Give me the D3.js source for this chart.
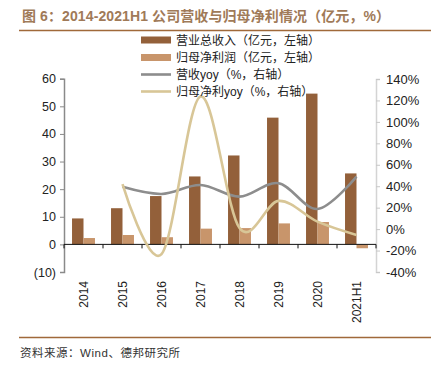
<!DOCTYPE html>
<html><head><meta charset="utf-8">
<script src="https://cdn.jsdelivr.net/npm/d3@7"></script>
<style>
html,body{margin:0;padding:0;background:#fff;}
svg{display:block;}
</style></head>
<body><svg id="c" width="439" height="371"></svg>
<script>
const categories = ["2014","2015","2016","2017","2018","2019","2020","2021H1"];
const revenue = [9.4, 13.1, 17.5, 24.6, 32.2, 45.9, 54.6, 25.7];
const netProfit = [2.3, 3.4, 2.6, 5.7, 5.9, 7.6, 8.1, -1.4];
const revenueYoy = [null, 39.4, 32.8, 41.2, 30.3, 42.8, 18.8, 49.0];
const profitYoy = [null, 42.0, -23.4, 123.6, 1.0, 26.3, 7.0, -5.4];
const leftTicks = [-10, 0, 10, 20, 30, 40, 50, 60];
const rightTicks = [-40, -20, 0, 20, 40, 60, 80, 100, 120, 140];
const legendLabels = ["营业总收入（亿元，左轴）","归母净利润（亿元，左轴）","营收yoy（%，右轴）","归母净利yoy（%，右轴）"];
const titleText = "图 6：2014-2021H1 公司营收与归母净利情况（亿元，%）";
const sourceText = "资料来源：Wind、德邦研究所";

const C = {rev:"#93603a", np:"#c8956b", gray:"#8d8d8d", beige:"#d8c697", rule:"#a0693a", title:"#a07a58"};
const latin = "'Liberation Sans', Arial, 'Noto Sans CJK SC', sans-serif";
const cjk = "'Liberation Sans', 'Noto Sans CJK SC', sans-serif";

const svg = d3.select("#c");
const x = d3.scaleBand().domain(categories).range([64, 376]).padding(0);
const xs = d3.scaleBand().domain(["rev","np"]).range([0, x.bandwidth()]).paddingInner(0).paddingOuter(0.7);
const yL = d3.scaleLinear().domain([-10, 60]).range([272, 78.7]);
const yR = d3.scaleLinear().domain([-40, 140]).range([272, 79]);

// title and rules
svg.append("text").attr("x", 22).attr("y", 21).attr("fill", C.title)
  .attr("font-family", cjk).attr("font-weight", "bold").attr("font-size", 14)
  .attr("textLength", 368).attr("lengthAdjust", "spacing").text(titleText);
svg.append("line").attr("x1", 19).attr("x2", 431).attr("y1", 30.5).attr("y2", 30.5).attr("stroke", C.rule).attr("stroke-width", 1.5);
svg.append("line").attr("x1", 19).attr("x2", 431).attr("y1", 337.5).attr("y2", 337.5).attr("stroke", C.rule).attr("stroke-width", 1.5);
svg.append("text").attr("x", 20).attr("y", 357).attr("fill", "#333")
  .attr("font-family", cjk).attr("font-size", 11.5)
  .attr("textLength", 160).attr("lengthAdjust", "spacing").text(sourceText);

// left axis
const gL = svg.append("g").attr("transform", "translate(64,0)")
  .call(d3.axisLeft(yL).tickValues(leftTicks).tickSize(4).tickPadding(4)
    .tickFormat(d => d < 0 ? "(" + Math.abs(d) + ")" : d));
gL.select(".domain").attr("stroke", "#8a8a8a").attr("stroke-width", 1.5);
gL.selectAll(".tick line").attr("stroke", "#8a8a8a");
gL.selectAll("text").attr("font-family", latin).attr("font-size", 12.5).attr("fill", "#222");

// right axis
const gR = svg.append("g").attr("transform", "translate(376,0)")
  .call(d3.axisRight(yR).tickValues(rightTicks).tickSize(4).tickPadding(6).tickFormat(d => d + "%"));
gR.select(".domain").attr("stroke", "#d4d4d4").attr("stroke-width", 1.5);
gR.selectAll(".tick line").attr("stroke", "#c8c8c8");
gR.selectAll("text").attr("font-family", latin).attr("font-size", 13).attr("fill", "#222");

// bars
svg.append("g").selectAll("rect.rev").data(categories).join("rect")
  .attr("x", d => x(d) + xs("rev")).attr("width", xs.bandwidth())
  .attr("y", (d, i) => Math.min(yL(revenue[i]), yL(0)))
  .attr("height", (d, i) => Math.abs(yL(revenue[i]) - yL(0))).attr("fill", C.rev);
svg.append("g").selectAll("rect.np").data(categories).join("rect")
  .attr("x", d => x(d) + xs("np")).attr("width", xs.bandwidth())
  .attr("y", (d, i) => Math.min(yL(netProfit[i]), yL(0)))
  .attr("height", (d, i) => Math.abs(yL(netProfit[i]) - yL(0))).attr("fill", C.np);

// x axis on zero line
const gX = svg.append("g").attr("transform", `translate(0,${yL(0)})`);
gX.append("line").attr("x1", 64).attr("x2", 376).attr("stroke", "#111").attr("stroke-width", 1);
const bounds = categories.map(c => x(c)).concat([x.range()[1]]);
gX.selectAll("line.t").data(bounds).join("line").attr("class", "t")
  .attr("x1", d => d).attr("x2", d => d).attr("y1", 0).attr("y2", 4).attr("stroke", "#111");
svg.append("g").selectAll("text").data(categories).join("text")
  .attr("transform", d => `translate(${x(d) + x.bandwidth() / 2 + 4},281) rotate(-90)`)
  .attr("text-anchor", "end").attr("font-family", latin).attr("font-size", 12).attr("fill", "#222").text(d => d);

// lines
const lineGen = arr => d3.line()
  .x(d => x(d[0]) + x.bandwidth() / 2).y(d => yR(d[1]))
  .curve(d3.curveCatmullRom.alpha(0))(categories.map((c, i) => [c, arr[i]]).filter(d => d[1] != null));
svg.append("path").attr("d", lineGen(revenueYoy)).attr("fill", "none").attr("stroke", C.gray).attr("stroke-width", 2.6);
svg.append("path").attr("d", lineGen(profitYoy)).attr("fill", "none").attr("stroke", C.beige).attr("stroke-width", 2.6);

// legend
const lg = svg.append("g");
const rows = [40, 57.5, 74.5, 91.5];
legendLabels.forEach((t, i) => {
  if (i < 2) {
    lg.append("rect").attr("x", 141).attr("y", rows[i] - 3.5).attr("width", 30).attr("height", 7).attr("fill", i === 0 ? C.rev : C.np);
  } else {
    lg.append("line").attr("x1", 141).attr("x2", 171).attr("y1", rows[i]).attr("y2", rows[i])
      .attr("stroke", i === 2 ? C.gray : C.beige).attr("stroke-width", 2.6);
  }
  lg.append("text").attr("x", 176).attr("y", rows[i] + 4.5).attr("font-family", cjk).attr("font-size", 12)
    .attr("fill", "#222").text(t);
});
</script></body></html>
